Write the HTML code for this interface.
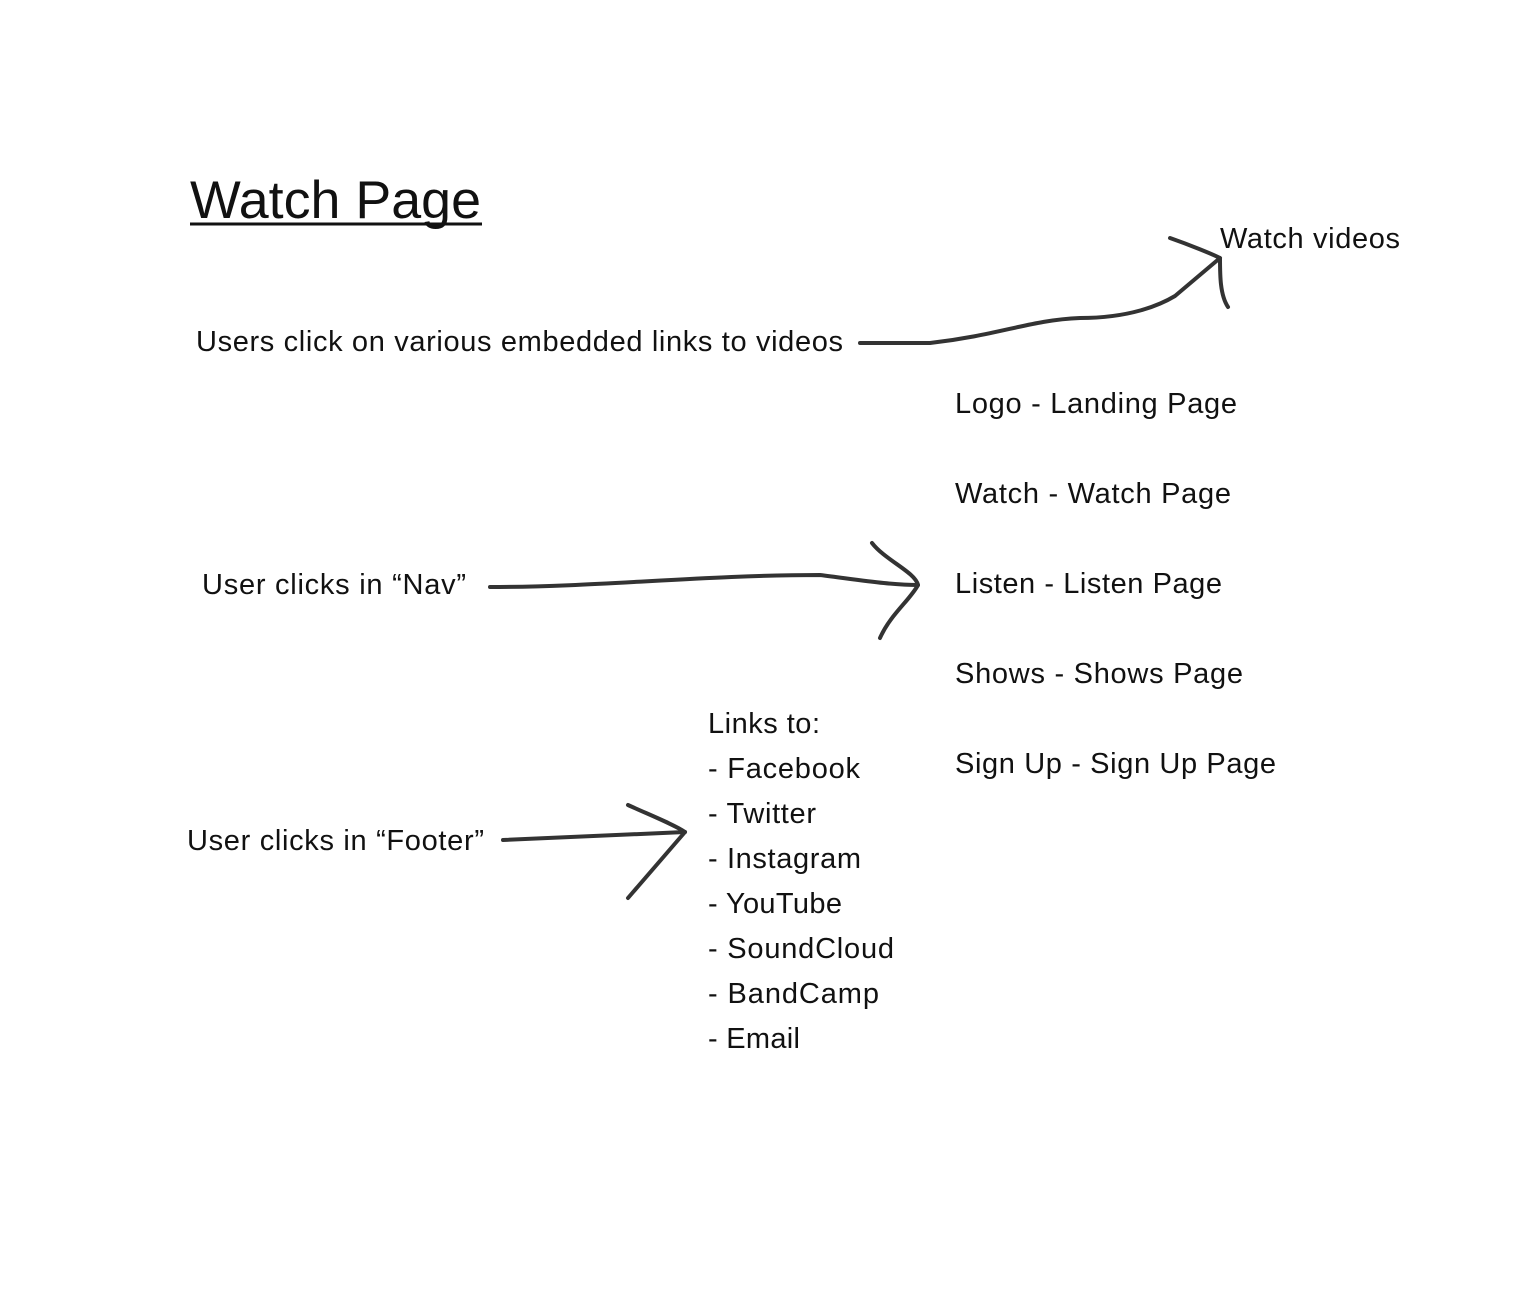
<!DOCTYPE html>
<html><head><meta charset="utf-8"><style>
html,body{margin:0;padding:0;background:#fff;}
svg{display:block;}
text{font-family:"Liberation Sans",Arial,sans-serif;fill:#111;}
</style></head><body>
<svg width="1520" height="1296" viewBox="0 0 1520 1296" xmlns="http://www.w3.org/2000/svg">
<rect width="1520" height="1296" fill="#fff"/>
<text x="190" y="218" font-size="53" textLength="291" lengthAdjust="spacingAndGlyphs">Watch Page</text>
<line x1="190" y1="224" x2="482" y2="224" stroke="#111" stroke-width="3"/>
<g font-size="29" lengthAdjust="spacingAndGlyphs">
<text x="1220" y="248" textLength="180">Watch videos</text>
<text x="196" y="351" textLength="647">Users click on various embedded links to videos</text>
<text x="955" y="413" textLength="282">Logo - Landing Page</text>
<text x="955" y="503" textLength="276">Watch - Watch Page</text>
<text x="955" y="593" textLength="267">Listen - Listen Page</text>
<text x="955" y="683" textLength="288">Shows - Shows Page</text>
<text x="955" y="773" textLength="321">Sign Up - Sign Up Page</text>
<text x="202" y="594" textLength="264">User clicks in “Nav”</text>
<text x="187" y="850" textLength="297">User clicks in “Footer”</text>
<text x="708" y="733" textLength="112">Links to:</text>
<text x="708" y="778" textLength="152">- Facebook</text>
<text x="708" y="823" textLength="108">- Twitter</text>
<text x="708" y="868" textLength="153">- Instagram</text>
<text x="708" y="913" textLength="134">- YouTube</text>
<text x="708" y="958" textLength="186">- SoundCloud</text>
<text x="708" y="1003" textLength="171">- BandCamp</text>
<text x="708" y="1048" textLength="92">- Email</text>
</g>
<g fill="none" stroke="#333" stroke-width="4" stroke-linecap="round" stroke-linejoin="round">
<path d="M860,343 L930,343 C1000,335 1030,320 1080,318 C1130,318 1160,305 1175,296 L1220,258"/>
<path d="M1170,238 C1190,245 1212,254 1220,258 C1220,275 1220,295 1228,307"/>
<path d="M490,587 C600,587 700,575 820,575 C860,580 890,585 918,585"/>
<path d="M872,543 C885,560 915,572 918,585 C910,600 890,615 880,638"/>
<path d="M503,840 L685,832"/>
<path d="M628,805 C650,815 675,825 685,832 L628,898"/>
</g>
</svg>
</body></html>
